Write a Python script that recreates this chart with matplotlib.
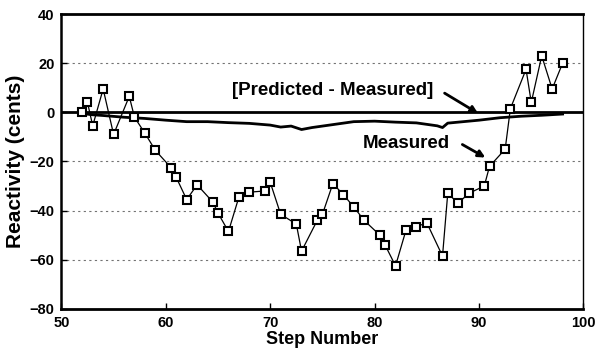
import matplotlib
matplotlib.use("Agg")
import matplotlib.pyplot as plt

# Measured reactivity
meas_steps = [52, 52.5, 53, 54, 55, 56.5, 57, 58, 59, 60.5, 61, 62, 63, 64.5, 65, 66, 67, 68,
              69.5, 70, 71, 72.5, 73, 74.5, 75, 76, 77, 78, 79, 80.5, 81, 82, 83, 84, 85,
              86.5, 87, 88, 89, 90.5, 91, 92.5, 93, 94.5, 95, 96, 97, 98]
meas_vals = [0, 4, -5.5, 9.5, -9, 6.5, -2, -8.5, -15.5, -22.5, -26.5, -35.5, -29.5, -36.5,
             -41, -48.5, -34.5, -32.5, -32, -28.5, -41.5, -45.5, -56.5, -44, -41.5, -29,
             -33.5, -38.5, -44, -50, -54, -62.5, -48, -46.5, -45, -58.5, -33, -37, -33, -30,
             -22, -15, 1.5, 17.5, 4, 23, 9.5, 20]

# Predicted - Measured
diff_steps = [52, 53, 54, 56, 58, 60, 62, 64, 66, 68, 70, 71, 72, 73, 74, 75, 76, 77, 78,
              80, 82, 84, 86, 86.5, 87, 88, 90, 92, 94, 96, 98]
diff_vals = [-0.5, -1, -1.3, -2, -2.5, -3.2, -3.8, -3.8, -4.2, -4.5, -5.2, -6, -5.6, -7,
             -6.2, -5.6, -5, -4.4, -3.8, -3.6, -4, -4.3, -5.5, -6.2, -4.4, -4, -3.2, -2.2,
             -1.6, -1.2, -0.7]

x_ticks = [50, 60, 70, 80, 90, 100]
y_ticks = [-80, -60, -40, -20, 0, 20, 40]
grid_levels = [20, -20, -40, -60]

plt.rcParams['font.family'] = ['Liberation Sans', 'DejaVu Sans']
plt.rcParams['font.weight'] = 'bold'

fig = plt.figure(figsize=(5.96, 3.6), dpi=100)
ax = fig.add_axes([0.103, 0.142, 0.876, 0.819])

for g in grid_levels:
    ax.axhline(g, color='0.45', lw=0.8, ls=(0, (2, 3)), zorder=1)
ax.axhline(0, color='black', lw=2.0, zorder=2)

ax.plot(diff_steps, diff_vals, color='black', lw=2.0, zorder=3)
ax.plot(meas_steps, meas_vals, color='black', lw=0.9, marker='s', markersize=5.5,
        markerfacecolor='white', markeredgecolor='black', markeredgewidth=1.5, zorder=4)

ax.set_xlim(50, 100)
ax.set_ylim(-80, 40)
ax.set_xticks(x_ticks)
ax.set_yticks(y_ticks)
ax.tick_params(direction='in', length=4, width=1, labelsize=10.5, pad=5)
for lab in ax.get_xticklabels() + ax.get_yticklabels():
    lab.set_fontweight('bold')

ax.spines['top'].set_linewidth(2.0)
ax.spines['bottom'].set_linewidth(2.0)
ax.spines['left'].set_linewidth(1.8)
ax.spines['right'].set_linewidth(1.0)

ax.set_xlabel('Step Number', fontsize=13, fontweight='bold', labelpad=1)
ax.set_ylabel('Reactivity (cents)', fontsize=15, fontweight='bold', labelpad=3)

ax.text(85.6, 9.0, '[Predicted - Measured]', fontsize=13.5, fontweight='bold',
        ha='right', va='center')
ax.annotate('', xy=(89.9, -0.4), xytext=(86.7, 7.8),
            arrowprops=dict(arrowstyle='-|>', color='black', lw=2, mutation_scale=10,
                            shrinkA=0, shrinkB=0))
ax.text(87.2, -12.6, 'Measured', fontsize=13.5, fontweight='bold',
        ha='right', va='center')
ax.annotate('', xy=(90.6, -18.4), xytext=(88.4, -13.1),
            arrowprops=dict(arrowstyle='-|>', color='black', lw=2, mutation_scale=10,
                            shrinkA=0, shrinkB=0))

fig.savefig('out.png', dpi=100)
